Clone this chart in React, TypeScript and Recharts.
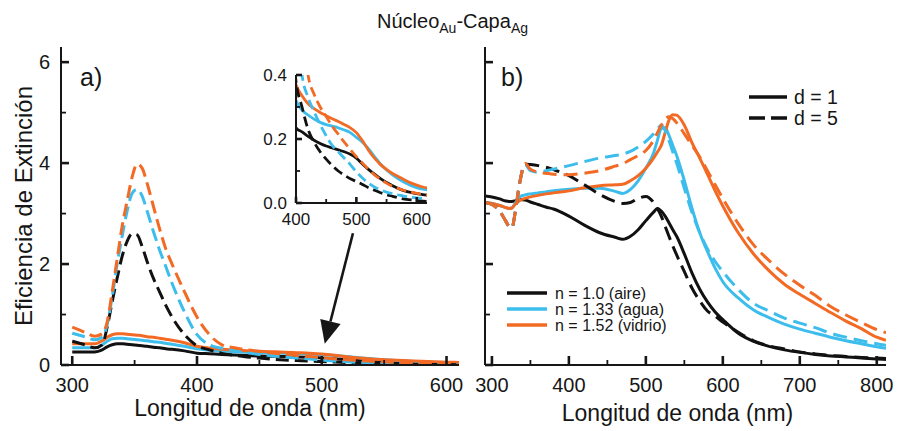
import React from 'react';
import { LineChart, Line, XAxis, YAxis, ReferenceLine } from 'recharts';

const FONT = '"Liberation Sans", Arial, Helvetica, sans-serif';
const INK = '#161616';
const BLACK = '#111111';
const BLUE = '#3cbdec';
const ORANGE = '#f26a24';

// panel a (also used by the zoomed inset)
const waveA = [300, 310, 318, 324, 328, 332, 336, 340, 344, 348, 352, 356, 360, 365, 370, 375, 380, 390,
  400, 410, 420, 430, 440, 450, 460, 470, 480, 490, 500, 510, 520, 530, 540, 550, 560, 570, 580, 590, 600, 610, 620];
const aBlack1 = [0.26, 0.26, 0.26, 0.3, 0.36, 0.4, 0.42, 0.42, 0.41, 0.4, 0.39, 0.38, 0.37, 0.35, 0.34, 0.32, 0.31, 0.28,
  0.235, 0.222, 0.208, 0.196, 0.186, 0.178, 0.172, 0.166, 0.16, 0.152, 0.14, 0.122, 0.105, 0.09, 0.076, 0.064, 0.054, 0.045, 0.038, 0.033, 0.029, 0.026, 0.024];
const aBlue1 = [0.34, 0.34, 0.34, 0.4, 0.47, 0.52, 0.53, 0.53, 0.52, 0.51, 0.5, 0.49, 0.48, 0.46, 0.45, 0.43, 0.41, 0.37,
  0.32, 0.29, 0.275, 0.262, 0.252, 0.245, 0.24, 0.235, 0.228, 0.22, 0.205, 0.19, 0.17, 0.145, 0.122, 0.103, 0.088, 0.075, 0.064, 0.055, 0.048, 0.043, 0.04];
const aOrange1 = [0.42, 0.42, 0.42, 0.48, 0.55, 0.6, 0.62, 0.62, 0.61, 0.6, 0.59, 0.58, 0.56, 0.55, 0.53, 0.51, 0.49, 0.44,
  0.37, 0.335, 0.31, 0.295, 0.283, 0.273, 0.263, 0.255, 0.245, 0.235, 0.22, 0.195, 0.165, 0.14, 0.12, 0.105, 0.092, 0.082, 0.072, 0.063, 0.056, 0.05, 0.046];
const aBlack5 = [0.47, 0.4, 0.34, 0.4, 0.75, 1.25, 1.72, 2.15, 2.45, 2.6, 2.58, 2.35, 2.05, 1.72, 1.45, 1.18, 0.95, 0.6,
  0.38, 0.3, 0.23, 0.19, 0.16, 0.137, 0.117, 0.1, 0.087, 0.076, 0.067, 0.058, 0.048, 0.04, 0.032, 0.026, 0.021, 0.016, 0.012, 0.01, 0.008, 0.006, 0.005];
const aBlue5 = [0.63, 0.56, 0.5, 0.55, 0.8, 1.35, 2.0, 2.55, 3.05, 3.4, 3.48, 3.35, 3.05, 2.65, 2.28, 1.95, 1.62, 1.05,
  0.6, 0.4, 0.33, 0.285, 0.245, 0.21, 0.18, 0.16, 0.14, 0.12, 0.097, 0.078, 0.062, 0.05, 0.041, 0.034, 0.029, 0.025, 0.021, 0.018, 0.016, 0.014, 0.013];
const aOrange5 = [0.75, 0.65, 0.57, 0.62, 0.85, 1.45, 2.1, 2.75, 3.25, 3.72, 3.98, 3.9, 3.6, 3.15, 2.7, 2.3, 2.0, 1.45,
  0.95, 0.6, 0.4, 0.34, 0.3, 0.27, 0.24, 0.215, 0.19, 0.167, 0.145, 0.125, 0.105, 0.088, 0.074, 0.062, 0.052, 0.045, 0.039, 0.034, 0.03, 0.027, 0.025];

// panel b
const waveB = [290, 300, 310, 318, 322, 326, 330, 336, 343, 350, 360, 370, 380, 400, 420, 440, 460, 470, 480, 490,
  500, 510, 515, 520, 525, 530, 535, 540, 550, 560, 570, 580, 590, 600, 620, 640, 660, 680, 700, 720, 740, 760, 780, 800, 812];
const bBlack1 = [3.35, 3.33, 3.29, 3.25, 3.24, 3.24, 3.25, 3.28, 3.27, 3.23, 3.18, 3.13, 3.09, 2.95, 2.77, 2.62, 2.53, 2.49, 2.55, 2.68,
  2.86, 3.03, 3.1, 3.05, 2.95, 2.82, 2.68, 2.55, 2.2, 1.82, 1.5, 1.25, 1.05, 0.9, 0.63, 0.47, 0.37, 0.3, 0.25, 0.21, 0.18, 0.16, 0.14, 0.12, 0.11];
const bBlack5 = [3.22, 3.18, 3.05, 2.85, 2.75, 2.72, 3.0, 3.6, 3.98, 3.97, 3.95, 3.92, 3.87, 3.75, 3.57, 3.38, 3.24, 3.2, 3.22, 3.3,
  3.34, 3.22, 3.1, 2.95, 2.75, 2.55, 2.36, 2.18, 1.85, 1.52, 1.27, 1.07, 0.97, 0.85, 0.65, 0.48, 0.38, 0.32, 0.26, 0.22, 0.19, 0.17, 0.15, 0.14, 0.13];
const bBlue1 = [3.22, 3.2, 3.16, 3.12, 3.1, 3.11, 3.2, 3.33, 3.37, 3.39, 3.41, 3.43, 3.45, 3.48, 3.5, 3.5, 3.44, 3.4, 3.48, 3.65,
  3.9, 4.2, 4.45, 4.68, 4.7, 4.55, 4.35, 4.15, 3.65, 3.1, 2.62, 2.25, 1.92, 1.65, 1.33, 1.09, 0.94, 0.81, 0.71, 0.63, 0.55, 0.48, 0.42, 0.36, 0.33];
const bBlue5 = [3.22, 3.18, 3.05, 2.85, 2.75, 2.72, 3.0, 3.6, 3.97, 3.85, 3.82, 3.85, 3.88, 3.95, 4.03, 4.1, 4.15, 4.18, 4.23, 4.32,
  4.43, 4.58, 4.68, 4.75, 4.65, 4.45, 4.22, 4.0, 3.5, 3.02, 2.62, 2.3, 2.05, 1.85, 1.5, 1.22, 1.07, 0.93, 0.83, 0.74, 0.63, 0.55, 0.48, 0.42, 0.39];
const bOrange1 = [3.22, 3.2, 3.16, 3.12, 3.1, 3.11, 3.18, 3.26, 3.3, 3.33, 3.36, 3.39, 3.41, 3.45, 3.51, 3.55, 3.57, 3.58, 3.65, 3.75,
  3.9, 4.1, 4.22, 4.35, 4.6, 4.85, 4.96, 4.95, 4.75, 4.4, 4.1, 3.78, 3.45, 3.15, 2.62, 2.2, 1.87, 1.6, 1.4, 1.22, 1.04, 0.87, 0.72, 0.55, 0.49];
const bOrange5 = [3.22, 3.18, 3.05, 2.85, 2.75, 2.72, 3.0, 3.6, 3.99, 3.88, 3.82, 3.8, 3.78, 3.77, 3.8, 3.85, 3.94, 3.99, 4.07, 4.15,
  4.25, 4.45, 4.6, 4.75, 4.87, 4.92, 4.88, 4.8, 4.58, 4.35, 4.12, 3.85, 3.57, 3.3, 2.8, 2.38, 2.07, 1.8, 1.58, 1.38, 1.16, 0.99, 0.84, 0.7, 0.64];

// ticks
const ticksA = [300, 350, 400, 450, 500, 550, 600];
const majorA = [300, 400, 500, 600];
const ticksB = [300, 350, 400, 450, 500, 550, 600, 650, 700, 750, 800];
const majorB = [300, 400, 500, 600, 700, 800];
const ticksY = [0, 1, 2, 3, 4, 5, 6];
const majorY = [0, 2, 4, 6];
const ticksInX = [400, 450, 500, 550, 600];
const majorInX = [400, 500, 600];
const ticksInY = [0, 0.1, 0.2, 0.3, 0.4];
const majorInY = [0, 0.2, 0.4];

const legendN = ['n = 1.0 (aire)', 'n = 1.33 (agua)', 'n = 1.52 (vidrio)'];
const legendD = ['d = 1', 'd = 5'];

function buildRows(wave: number[], cols: Record<string, number[]>) {
  return wave.map((w, i) => {
    const r: any = { w };
    Object.keys(cols).forEach((k) => (r[k] = cols[k][i]));
    return r;
  });
}

const rowsA = buildRows(waveA, { k1: aBlack1, b1: aBlue1, o1: aOrange1, k5: aBlack5, b5: aBlue5, o5: aOrange5 });
const rowsB = buildRows(waveB, { k1: bBlack1, b1: bBlue1, o1: bOrange1, k5: bBlack5, b5: bBlue5, o5: bOrange5 });

const series = [
  { key: 'k1', color: BLACK, dash: false },
  { key: 'b1', color: BLUE, dash: false },
  { key: 'o1', color: ORANGE, dash: false },
  { key: 'k5', color: BLACK, dash: true },
  { key: 'b5', color: BLUE, dash: true },
  { key: 'o5', color: ORANGE, dash: true },
];

type Side = 'bottom' | 'top' | 'left' | 'right';
type TickOpts = { side: Side; majors: number[]; big: number; small: number; label?: boolean; fs?: number; gap?: number; fmt?: (v: number) => string };

function makeTick(o: TickOpts) {
  return (props: any) => {
    const { x, y, payload } = props;
    const v = payload.value as number;
    const major = o.majors.some((m) => Math.abs(m - v) < 1e-6);
    const len = major ? o.big : o.small;
    let x2 = x;
    let y2 = y;
    if (o.side === 'bottom') y2 = y - len;
    else if (o.side === 'top') y2 = y + len;
    else if (o.side === 'left') x2 = x + len;
    else x2 = x - len;
    const fs = o.fs || 20;
    const txt = o.fmt ? o.fmt(v) : String(v);
    let label = null;
    if (o.label && major) {
      if (o.side === 'bottom') {
        label = (
          <text x={x} y={y + (o.gap || 28)} textAnchor="middle" fontSize={fs} fill={INK} fontFamily={FONT}>
            {txt}
          </text>
        );
      } else if (o.side === 'left') {
        label = (
          <text x={x - (o.gap || 11)} y={y + fs * 0.36} textAnchor="end" fontSize={fs} fill={INK} fontFamily={FONT}>
            {txt}
          </text>
        );
      }
    }
    return (
      <g>
        <line x1={x} y1={y} x2={x2} y2={y2} stroke={INK} strokeWidth={major ? 2.6 : 1.8} />
        {label}
      </g>
    );
  };
}

const ArrowShape = (p: any) => {
  const { x1, y1, x2, y2 } = p;
  const dx = x2 - x1;
  const dy = y2 - y1;
  const L = Math.hypot(dx, dy) || 1;
  const ux = dx / L;
  const uy = dy / L;
  const hl = 23;
  const hw = 10.5;
  const bx = x2 - ux * hl;
  const by = y2 - uy * hl;
  return (
    <g>
      <line x1={x1} y1={y1} x2={bx} y2={by} stroke={INK} strokeWidth={2.6} />
      <polygon points={`${x2},${y2} ${bx - uy * hw},${by + ux * hw} ${bx + uy * hw},${by - ux * hw}`} fill={INK} />
    </g>
  );
};

function lines(width: number, dash: string) {
  return series.map((s) => (
    <Line
      key={s.key}
      type="monotone"
      dataKey={s.key}
      stroke={s.color}
      strokeWidth={width}
      strokeDasharray={s.dash ? dash : undefined}
      dot={false}
      activeDot={false}
      isAnimationActive={false}
    />
  ));
}

function frameAxes(xDomain: [number, number], yDomain: [number, number], xt: number[], xm: number[], yt: number[], ym: number[], big: number, small: number) {
  return [
    <XAxis key="xt" xAxisId="top" orientation="top" type="number" dataKey="w" domain={xDomain} allowDataOverflow ticks={xt} interval={0}
      height={0} tickSize={0} tickMargin={0} axisLine={{ stroke: INK, strokeWidth: 2 }} tickLine={false}
      tick={makeTick({ side: 'top', majors: xm, big, small })} />,
    <YAxis key="yr" yAxisId="right" orientation="right" type="number" domain={yDomain} allowDataOverflow ticks={yt} interval={0}
      width={0} tickSize={0} tickMargin={0} axisLine={{ stroke: INK, strokeWidth: 2 }} tickLine={false}
      tick={makeTick({ side: 'right', majors: ym, big, small })} />,
  ];
}

export default function App() {
  return (
    <div style={{ position: 'absolute', left: 0, top: 0, width: 897, height: 431, background: '#fff', fontFamily: FONT, color: INK }}>
      <div style={{ position: 'absolute', left: 377, top: 10, fontSize: 20, whiteSpace: 'nowrap' }}>
        Núcleo<sub style={{ fontSize: 14 }}>Au</sub>-Capa<sub style={{ fontSize: 14 }}>Ag</sub>
      </div>

      {/* panel a */}
      <div style={{ position: 'absolute', left: 0, top: 0 }}>
        <LineChart width={470} height={431} data={rowsA} margin={{ top: 47, right: 11, bottom: 36, left: 16 }}>
          <XAxis type="number" dataKey="w" domain={[291, 610]} allowDataOverflow ticks={ticksA} interval={0} height={30}
            tickSize={0} tickMargin={0} axisLine={{ stroke: INK, strokeWidth: 2 }} tickLine={false}
            tick={makeTick({ side: 'bottom', majors: majorA, big: 9, small: 5, label: true, fs: 20, gap: 27 })}
            label={{ value: 'Longitud de onda (nm)', position: 'bottom', offset: 5, dx: -10, style: { fontSize: 23, fill: INK, fontFamily: FONT } }} />
          <YAxis type="number" domain={[0, 6.3]} allowDataOverflow ticks={ticksY} interval={0} width={45}
            tickSize={0} tickMargin={0} axisLine={{ stroke: INK, strokeWidth: 2 }} tickLine={false}
            tick={makeTick({ side: 'left', majors: majorY, big: 8, small: 5, label: true, fs: 20, gap: 11 })}
            label={{ value: 'Eficiencia de Extinción', angle: -90, position: 'insideLeft', offset: 7, style: { textAnchor: 'middle', fontSize: 24, fill: INK, fontFamily: FONT } }} />
          {frameAxes([291, 610], [0, 6.3], ticksA, majorA, ticksY, majorY, 8, 5)}
          {lines(3, '13 6')}
          <ReferenceLine segment={[{ x: 525, y: 2.61 }, { x: 502.4, y: 0.42 }]} shape={ArrowShape} />
        </LineChart>
      </div>

      {/* inset */}
      <div style={{ position: 'absolute', left: 250, top: 60 }}>
        <LineChart width={190} height={175} data={rowsA} margin={{ top: 15, right: 13, bottom: 7, left: 0 }}>
          <XAxis type="number" dataKey="w" domain={[400, 617]} allowDataOverflow ticks={ticksInX} interval={0} height={25}
            tickSize={0} tickMargin={0} axisLine={{ stroke: INK, strokeWidth: 2 }} tickLine={false}
            tick={makeTick({ side: 'bottom', majors: majorInX, big: 6, small: 4, label: true, fs: 17, gap: 22 })} />
          <YAxis type="number" domain={[0, 0.4]} allowDataOverflow ticks={ticksInY} interval={0} width={46}
            tickSize={0} tickMargin={0} axisLine={{ stroke: INK, strokeWidth: 2 }} tickLine={false}
            tick={makeTick({ side: 'left', majors: majorInY, big: 6, small: 4, label: true, fs: 17, gap: 9, fmt: (v) => v.toFixed(1) })} />
          {frameAxes([400, 617], [0, 0.4], ticksInX, majorInX, ticksInY, majorInY, 6, 4)}
          {lines(2.8, '10 5')}
        </LineChart>
      </div>

      {/* panel b */}
      <div style={{ position: 'absolute', left: 470, top: 0 }}>
        <LineChart width={427} height={431} data={rowsB} margin={{ top: 47, right: 11, bottom: 36, left: 0 }}>
          <XAxis type="number" dataKey="w" domain={[291, 812]} allowDataOverflow ticks={ticksB} interval={0} height={30}
            tickSize={0} tickMargin={0} axisLine={{ stroke: INK, strokeWidth: 2 }} tickLine={false}
            tick={makeTick({ side: 'bottom', majors: majorB, big: 9, small: 5, label: true, fs: 20, gap: 27 })}
            label={{ value: 'Longitud de onda (nm)', position: 'bottom', offset: 10, dx: -8, style: { fontSize: 23, fill: INK, fontFamily: FONT } }} />
          <YAxis type="number" domain={[0, 6.3]} allowDataOverflow ticks={ticksY} interval={0} width={15}
            tickSize={0} tickMargin={0} axisLine={{ stroke: INK, strokeWidth: 2 }} tickLine={false}
            tick={makeTick({ side: 'left', majors: majorY, big: 8, small: 5 })} />
          {frameAxes([291, 812], [0, 6.3], ticksB, majorB, ticksY, majorY, 8, 5)}
          {lines(3, '14 7')}
        </LineChart>
      </div>

      {/* panel tags and legends */}
      <svg width={897} height={431} style={{ position: 'absolute', left: 0, top: 0, pointerEvents: 'none' }}>
        <text x={80} y={86} fontSize={25} fill={INK} fontFamily={FONT}>a)</text>
        <text x={501} y={86} fontSize={25} fill={INK} fontFamily={FONT}>b)</text>
        {legendD.map((t, i) => (
          <g key={t}>
            <line x1={749} x2={787} y1={97 + i * 21} y2={97 + i * 21} stroke={BLACK} strokeWidth={3.5} strokeDasharray={i ? '16 6' : undefined} />
            <text x={794} y={104 + i * 21} fontSize={19.5} fill={INK} fontFamily={FONT}>{t}</text>
          </g>
        ))}
        {legendN.map((t, i) => (
          <g key={t}>
            <line x1={507} x2={547} y1={293 + i * 16} y2={293 + i * 16} stroke={[BLACK, BLUE, ORANGE][i]} strokeWidth={3.5} />
            <text x={555} y={299 + i * 16} fontSize={16} fill={INK} fontFamily={FONT}>{t}</text>
          </g>
        ))}
      </svg>
    </div>
  );
}
